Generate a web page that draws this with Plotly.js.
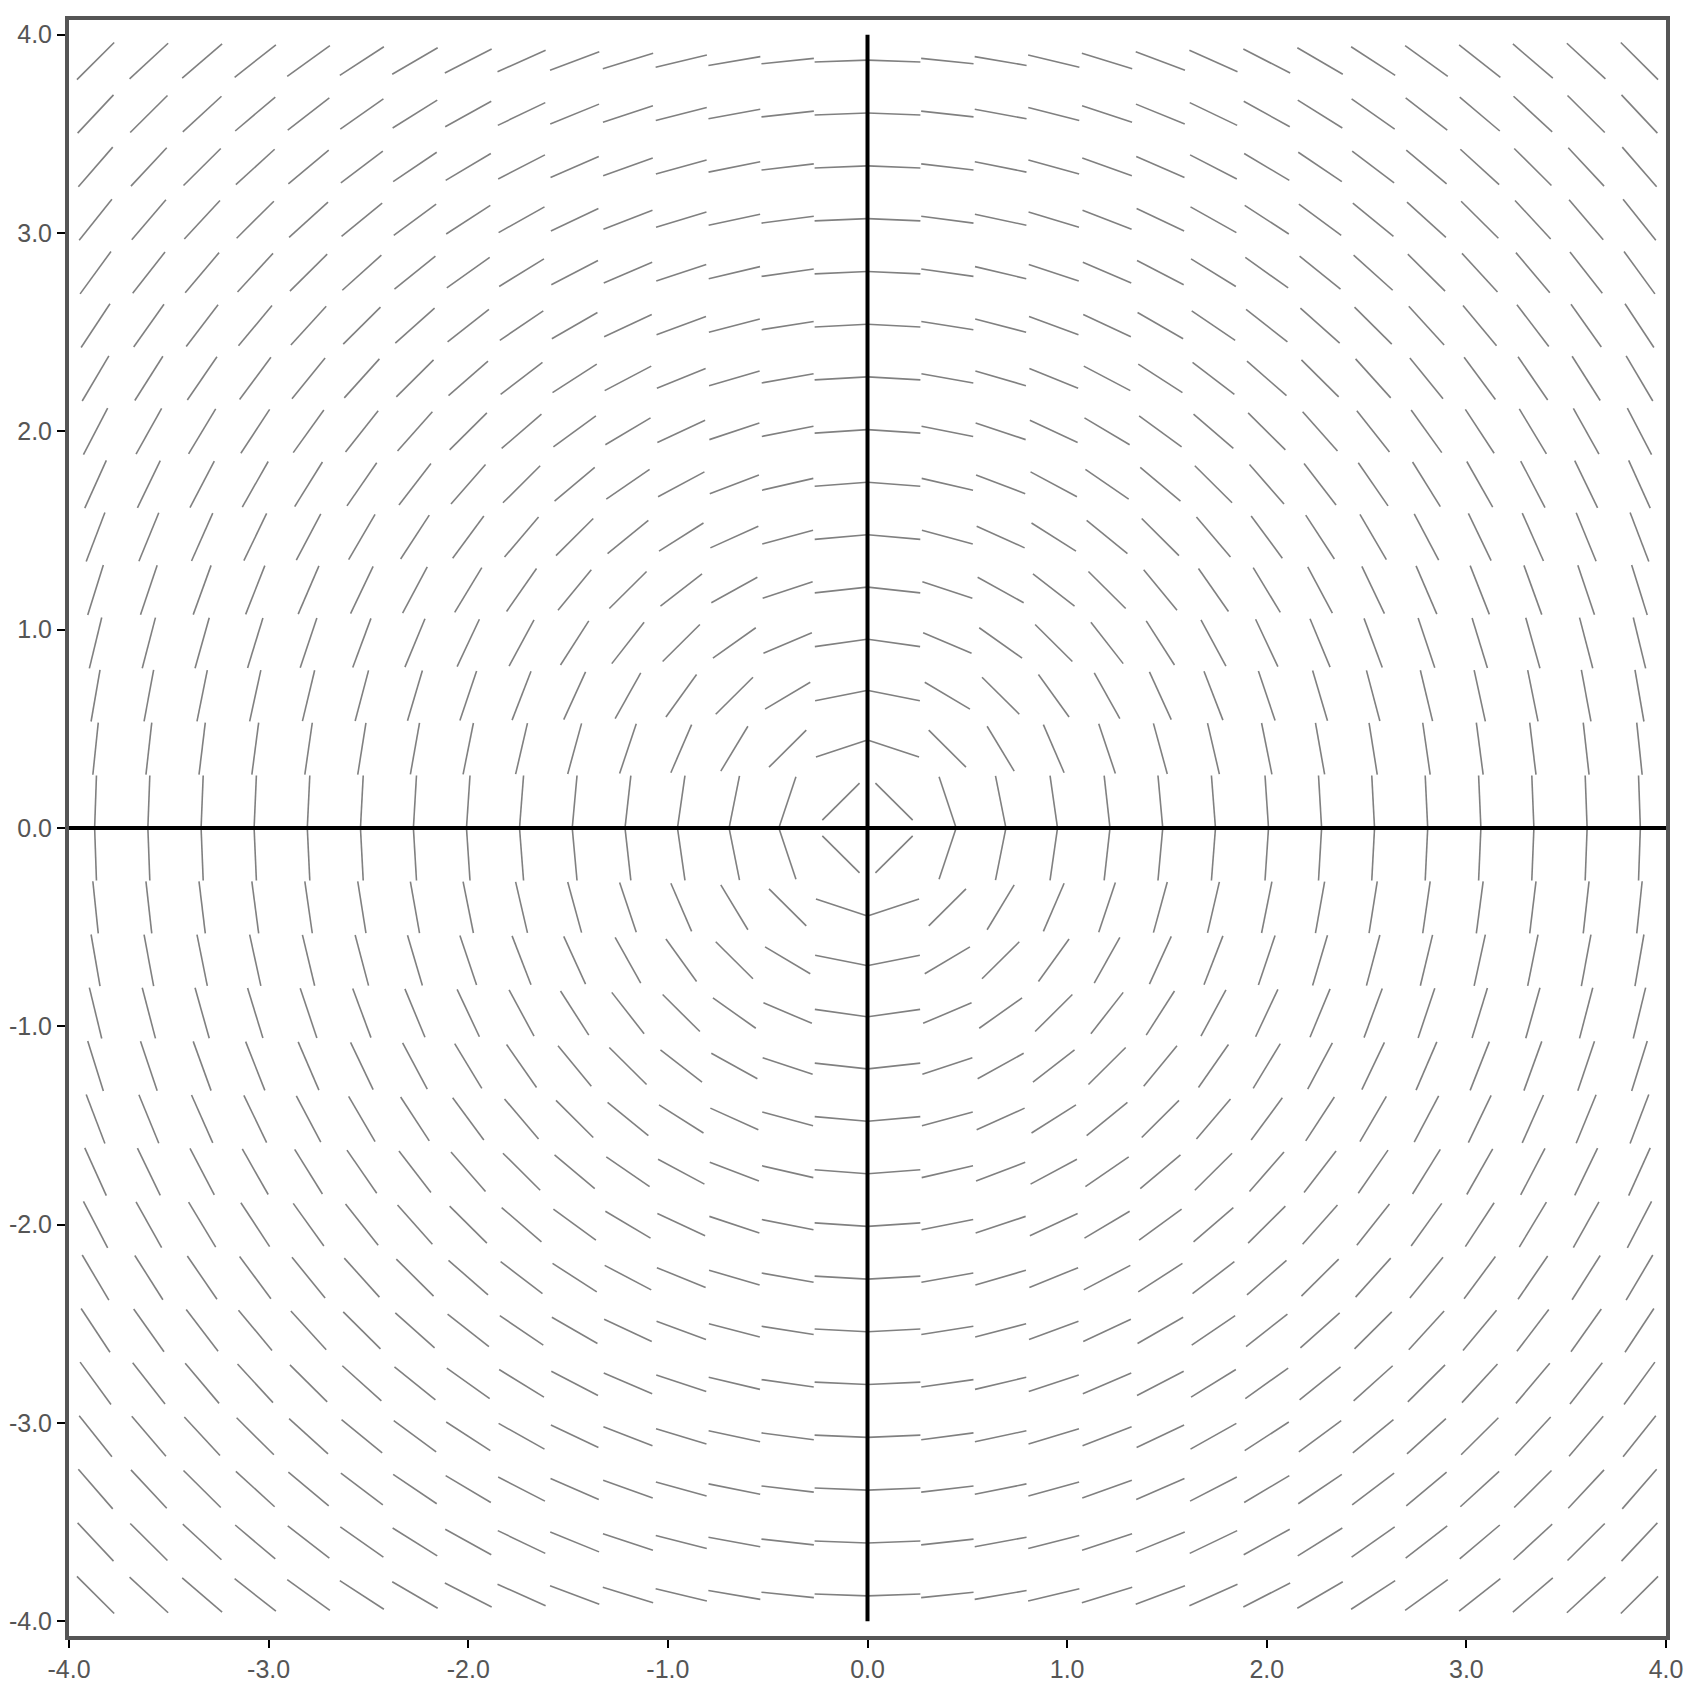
<!DOCTYPE html>
<html>
<head>
<meta charset="utf-8">
<script src="https://cdn.plot.ly/plotly-3.0.1.min.js"></script>
<style>
  html, body { margin: 0; padding: 0; background: #ffffff; }
  #chart { width: 1690px; height: 1690px; }
</style>
</head>
<body>
<div id="chart"></div>
<script>
// Grid of sample points (cell centres)
var gridX = [-3.867, -3.6, -3.333, -3.067, -2.8, -2.533, -2.267, -2.0, -1.733, -1.467,
             -1.2, -0.933, -0.667, -0.4, -0.133, 0.133, 0.4, 0.667, 0.933, 1.2,
             1.467, 1.733, 2.0, 2.267, 2.533, 2.8, 3.067, 3.333, 3.6, 3.867];
var gridY = [-3.867, -3.6, -3.333, -3.067, -2.8, -2.533, -2.267, -2.0, -1.733, -1.467,
             -1.2, -0.933, -0.667, -0.4, -0.133, 0.133, 0.4, 0.667, 0.933, 1.2,
             1.467, 1.733, 2.0, 2.267, 2.533, 2.8, 3.067, 3.333, 3.6, 3.867];
// Length of each slope mark (data units)
var segmentLength = 0.264;

// Reference axes drawn in the chart
var hAxisX = [-4, 4];
var hAxisY = [0, 0];
var vAxisX = [0, 0];
var vAxisY = [-4, 4];

// Tick labels
var xTickVals = [-4, -3, -2, -1, 0, 1, 2, 3, 4];
var xTickText = ['-4.0', '-3.0', '-2.0', '-1.0', '0.0', '1.0', '2.0', '3.0', '4.0'];
var yTickVals = [-4, -3, -2, -1, 0, 1, 2, 3, 4];
var yTickText = ['-4.0', '-3.0', '-2.0', '-1.0', '0.0', '1.0', '2.0', '3.0', '4.0'];

// Differential equation of the slope field: dy/dx = -x / y
function slope(x, y) { return -x / y; }

var segX = [], segY = [];
for (var i = 0; i < gridX.length; i++) {
  for (var j = 0; j < gridY.length; j++) {
    var cx = gridX[i], cy = gridY[j];
    var m = slope(cx, cy);
    var ux = 1 / Math.sqrt(1 + m * m);
    var uy = m * ux;
    var h = segmentLength / 2;
    segX.push(cx - h * ux, cx + h * ux, null);
    segY.push(cy - h * uy, cy + h * uy, null);
  }
}

var traces = [
  {
    x: segX, y: segY, type: 'scatter', mode: 'lines',
    line: { color: '#808080', width: 1.6 },
    hoverinfo: 'skip', connectgaps: false
  },
  {
    x: hAxisX, y: hAxisY, type: 'scatter', mode: 'lines',
    line: { color: '#000000', width: 4 }, hoverinfo: 'skip'
  },
  {
    x: vAxisX, y: vAxisY, type: 'scatter', mode: 'lines',
    line: { color: '#000000', width: 4 }, hoverinfo: 'skip'
  }
];

var axisCommon = {
  showgrid: false,
  zeroline: false,
  showline: true,
  linecolor: '#555555',
  linewidth: 4,
  mirror: true,
  ticks: 'outside',
  ticklen: 8,
  tickwidth: 2,
  tickcolor: '#000000',
  tickfont: { family: 'Liberation Sans, Arial, sans-serif', size: 25, color: '#555555' }
};

var layout = {
  width: 1690,
  height: 1690,
  margin: { l: 69, r: 24, t: 20, b: 54, pad: 0 },
  paper_bgcolor: '#ffffff',
  plot_bgcolor: '#ffffff',
  showlegend: false,
  xaxis: Object.assign({}, axisCommon, {
    range: [-4, 4], tickmode: 'array', tickvals: xTickVals, ticktext: xTickText
  }),
  yaxis: Object.assign({}, axisCommon, {
    range: [-4.074, 4.074], tickmode: 'array', tickvals: yTickVals, ticktext: yTickText
  })
};

Plotly.newPlot('chart', traces, layout, { displayModeBar: false, staticPlot: true });
</script>
</body>
</html>
